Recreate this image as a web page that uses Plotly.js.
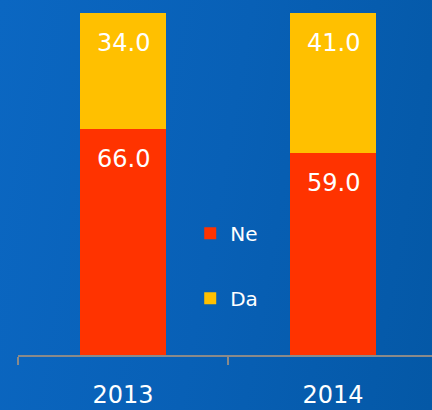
<!DOCTYPE html>
<html>
<head>
<meta charset="utf-8">
<script src="https://cdn.plot.ly/plotly-3.0.1.min.js"></script>
<style>
  html, body { margin: 0; padding: 0; }
  body {
    width: 432px;
    height: 410px;
    overflow: hidden;
    background: linear-gradient(100deg, #0b67c2 0%, #0860b6 50%, #0458a6 100%);
  }
  #chart { width: 432px; height: 410px; }
</style>
</head>
<body>
<div id="chart"></div>
<script>
// data
const years = ["2013", "2014"];
const neValues = [66.0, 59.0];
const daValues = [34.0, 41.0];

const FONT = '"DejaVu Sans", Lato, sans-serif';
const RED = "#ff3300";
const YELLOW = "#ffc000";

const traces = [
  {
    type: "bar",
    name: "Ne",
    x: years,
    y: neValues,
    marker: { color: RED },
    legendgroup: "ne",
    hoverinfo: "skip",
  },
  {
    type: "bar",
    name: "Da",
    x: years,
    y: daValues,
    marker: { color: YELLOW },
    legendgroup: "da",
    hoverinfo: "skip",
  },
];

// value labels sit a little below the top of each segment
const annotations = [];
years.forEach((yr, i) => {
  const tops = [neValues[i], neValues[i] + daValues[i]];
  const vals = [neValues[i], daValues[i]];
  tops.forEach((top, k) => {
    annotations.push({
      x: i, // category index
      y: top,
      xref: "x",
      yref: "y",
      yanchor: "top",
      yshift: -14,
      text: vals[k].toFixed(1),
      showarrow: false,
      font: { family: FONT, size: 24, color: "white" },
    });
  });
});

const layout = {
  width: 432,
  height: 410,
  barmode: "stack",
  bargap: 0.59,
  paper_bgcolor: "rgba(0,0,0,0)",
  plot_bgcolor: "rgba(0,0,0,0)",
  margin: { l: 18, r: 0, t: 13, b: 55 },
  showlegend: true,
  legend: {
    x: 0.416,
    y: 0.261,
    xanchor: "left",
    yanchor: "middle",
    traceorder: "grouped",
    tracegroupgap: 36,
    bgcolor: "rgba(0,0,0,0)",
    font: { family: FONT, size: 20, color: "white" },
  },
  xaxis: {
    type: "category",
    range: [-0.5, 1.4714],
    showline: true,
    linecolor: "#8a8a8a",
    linewidth: 2,
    ticks: "outside",
    tickson: "boundaries",
    ticklen: 8,
    tickwidth: 2,
    tickcolor: "#8a8a8a",
    ticklabelstandoff: 17,
    tickfont: { family: FONT, size: 24, color: "white" },
    showgrid: false,
    zeroline: false,
    fixedrange: true,
  },
  yaxis: {
    range: [0, 100],
    visible: false,
    showgrid: false,
    zeroline: false,
    fixedrange: true,
  },
  annotations: annotations,
};

Plotly.newPlot("chart", traces, layout, { displayModeBar: false });
</script>
</body>
</html>
